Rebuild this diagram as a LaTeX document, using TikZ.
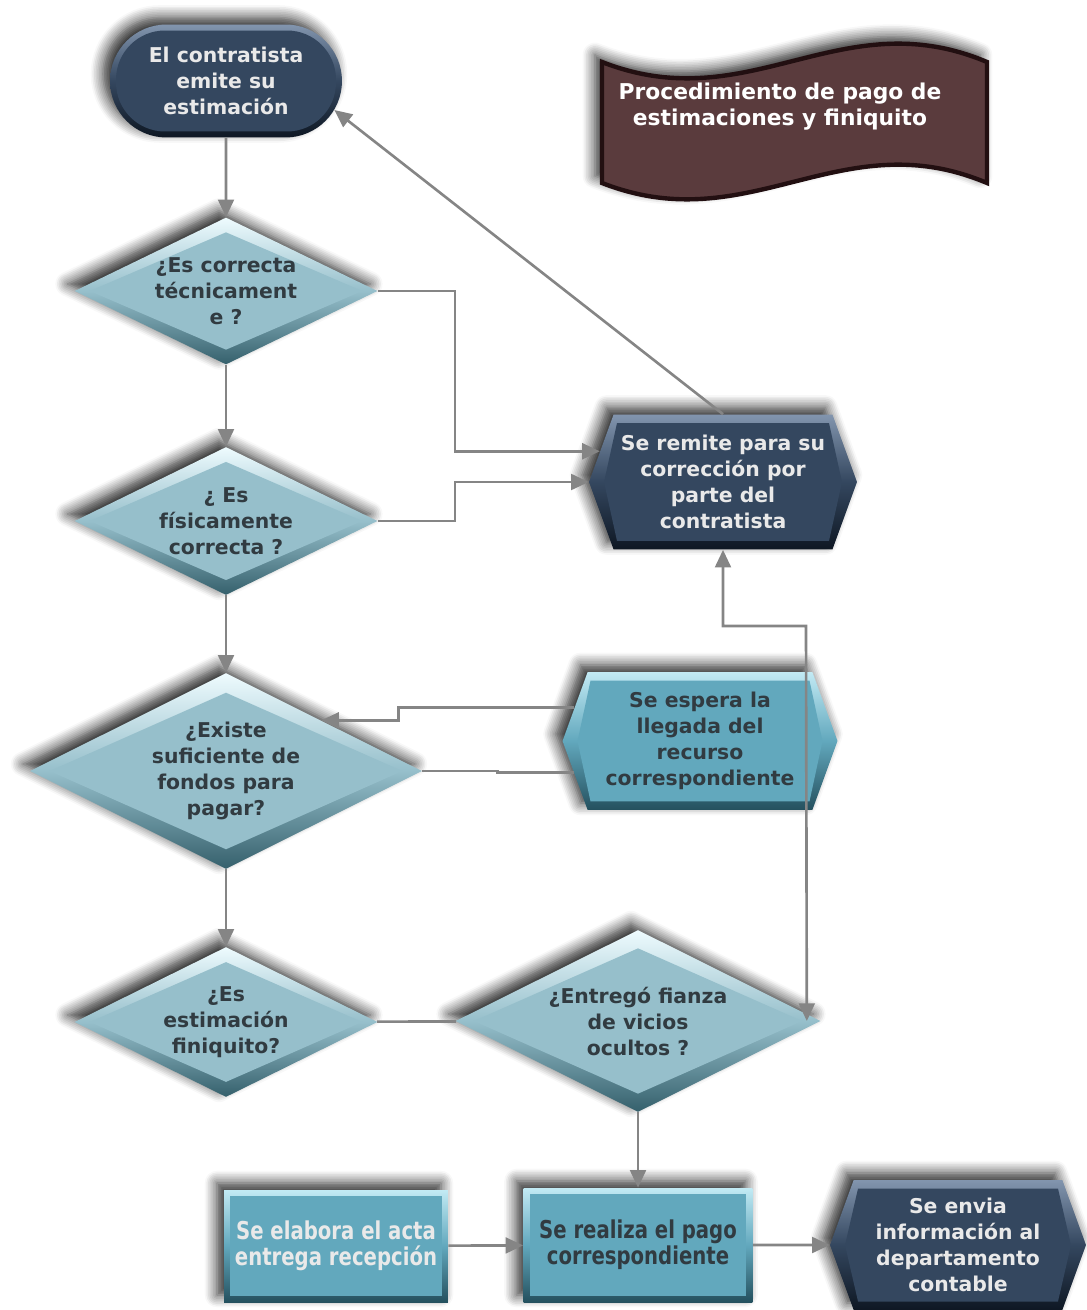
\documentclass[tikz,border=0pt]{standalone}
\usepackage{fontspec}
\setmainfont{DejaVu Sans}
\newfontfamily\condfont{DejaVu Sans}[FakeStretch=0.8]
\usepackage{tikz}
\usetikzlibrary{arrows.meta,calc,shapes.geometric,shapes.misc,shapes.symbols,shadows.blur}
\definecolor{navyc}{HTML}{34475F}
\definecolor{navyhi}{HTML}{8295AE}
\definecolor{navylo}{HTML}{0E1723}
\definecolor{diac}{HTML}{96BFCB}
\definecolor{diahi}{HTML}{EEFBFE}
\definecolor{dialo}{HTML}{35606C}
\definecolor{tealc}{HTML}{62A8BD}
\definecolor{tealhi}{HTML}{C2EAF4}
\definecolor{teallo}{HTML}{24505E}
\definecolor{bannerc}{HTML}{5A3B3D}
\definecolor{bannerlo}{HTML}{220F11}
\definecolor{linec}{HTML}{858585}
\definecolor{darktxt}{HTML}{313B41}
\definecolor{lighttxt}{HTML}{E9E9E9}

\begin{document}
\begin{tikzpicture}[x=0.02cm,y=-0.02cm,>={Triangle[length=10pt,width=9pt]},
    every node/.style={font=\bfseries\fontsize{11.6}{14.8}\selectfont, align=center, inner sep=0pt},
    shade3d/.style={blur shadow={shadow xshift=-4pt,shadow yshift=4pt,shadow blur radius=7pt,shadow blur steps=8,shadow opacity=85}},
    pbevel/.style={path picture={\fill[#1,rounded corners=0.98cm] ([shift={(0.12cm,-0.12cm)}]path picture bounding box.north west) rectangle ([shift={(-0.12cm,0.12cm)}]path picture bounding box.south east);}},
    dbevel/.style={path picture={\fill[#1] ($(path picture bounding box.north)!.1!(path picture bounding box.south)$) -- ($(path picture bounding box.east)!.05!(path picture bounding box.west)$) -- ($(path picture bounding box.south)!.1!(path picture bounding box.north)$) -- ($(path picture bounding box.west)!.05!(path picture bounding box.east)$) -- cycle;}},
    hbevel/.style={path picture={\fill[#1] ([xshift=0.3cm]path picture bounding box.west) -- ([shift={(0.56cm,-0.17cm)}]path picture bounding box.north west) -- ([shift={(-0.56cm,-0.17cm)}]path picture bounding box.north east) -- ([xshift=-0.3cm]path picture bounding box.east) -- ([shift={(-0.56cm,0.17cm)}]path picture bounding box.south east) -- ([shift={(0.56cm,0.17cm)}]path picture bounding box.south west) -- cycle;}},
    rbevel/.style={path picture={\fill[#1] ([shift={(0.12cm,-0.12cm)}]path picture bounding box.north west) rectangle ([shift={(-0.12cm,0.12cm)}]path picture bounding box.south east);}},
    term/.style={rounded rectangle, shade3d, top color=navyhi, bottom color=navylo, middle color=navyc, pbevel=navyc, text=lighttxt, minimum width=4.64cm, minimum height=2.26cm},
    decision/.style={diamond, aspect=2, shade3d, top color=diahi, bottom color=dialo, middle color=diac, dbevel=diac, text=darktxt},
    navyhex/.style={signal, signal to=west and east, signal pointer angle=140, shade3d, top color=navyhi, bottom color=navylo, middle color=navyc, hbevel=navyc, text=lighttxt},
    tealhex/.style={signal, signal to=west and east, signal pointer angle=140, shade3d, top color=tealhi, bottom color=teallo, middle color=tealc, hbevel=tealc, text=darktxt},
    process/.style={rectangle, shade3d, top color=tealhi, bottom color=teallo, middle color=tealc, rbevel=tealc, font=\condfont\bfseries\fontsize{14}{14.8}\selectfont},
    line/.style={draw=linec, line width=1.5pt},
    link/.style={line, ->}]
  \useasboundingbox (0,0) rectangle (1086,1310);

  \path[shade3d, fill=bannerc, draw=bannerlo, line width=2.5pt] (602,62) .. controls (750,120) and (840,0) .. (987,62) -- (987,183) .. controls (840,121) and (750,241) .. (602,183) -- cycle;
  \node[text=white, font=\bfseries\fontsize{12.4}{14.8}\selectfont] (title) at (780,107) {Procedimiento de pago de\\estimaciones y finiquito};

  \node[term] (start) at (226,81) {El contratista\\emite su\\estimación};
  \node[decision, minimum width=6.06cm, minimum height=2.94cm] (d1) at (226,291) {¿Es correcta\\técnicament\\e ?};
  \node[decision, minimum width=6.06cm, minimum height=2.96cm] (d2) at (226,521) {¿ Es\\físicamente\\correcta ?};
  \node[decision, minimum width=7.84cm, minimum height=3.92cm] (d3) at (226,771) {¿Existe\\suficiente de\\fondos para\\pagar?};
  \node[decision, minimum width=6.06cm, minimum height=3.0cm] (d4) at (226,1022) {¿Es\\estimación\\finiquito?};
  \node[decision, minimum width=7.3cm, minimum height=3.64cm] (d5) at (638,1021) {¿Entregó fianza\\de vicios\\ocultos ?};
  \node[navyhex, minimum width=5.36cm, minimum height=2.7cm] (remit) at (723,482) {Se remite para su\\corrección por\\parte del\\contratista};
  \node[tealhex, minimum width=5.5cm, minimum height=2.76cm] (espera) at (700,741) {Se espera la\\llegada del\\recurso\\correspondiente};
  \node[process, text=lighttxt, minimum width=4.48cm, minimum height=2.24cm] (acta) at (336,1246) {Se elabora el acta\\entrega recepción};
  \node[process, text=darktxt, minimum width=4.58cm, minimum height=2.28cm] (pago) at (638,1245) {Se realiza el pago\\correspondiente};
  \node[navyhex, minimum width=5.12cm, minimum height=2.6cm] (envia) at (958,1245) {Se envia\\información al\\departamento\\contable};
  \coordinate (turn) at (806,626);

  \draw[link] (start) -- (d1);
  \draw[link] (d1) -- (d2);
  \draw[link] (d2) -- (d3);
  \draw[link] (d3) -- (d4);
  \draw[link] (d1.east) -- ++(77,0) |- (remit.166);
  \draw[link] (d2.east) -- ++(77,0) |- (remit.west);
  \draw[link] (remit.north) -- (start.-15);
  \draw[link] (espera.165) -- ++(-176,0) |- (d3.28);
  \draw[line] (d3.east) -- ++(75,0) |- (espera.194);
  \draw[line] (d4) -- (d5);
  \draw[link,<->] ([xshift=-0.28cm]d5.east) -- (turn) -| (remit.south);
  \draw[link] (d5) -- (pago);
  \draw[link] (acta) -- (pago);
  \draw[link] (pago) -- (envia);
\end{tikzpicture}
\end{document}
